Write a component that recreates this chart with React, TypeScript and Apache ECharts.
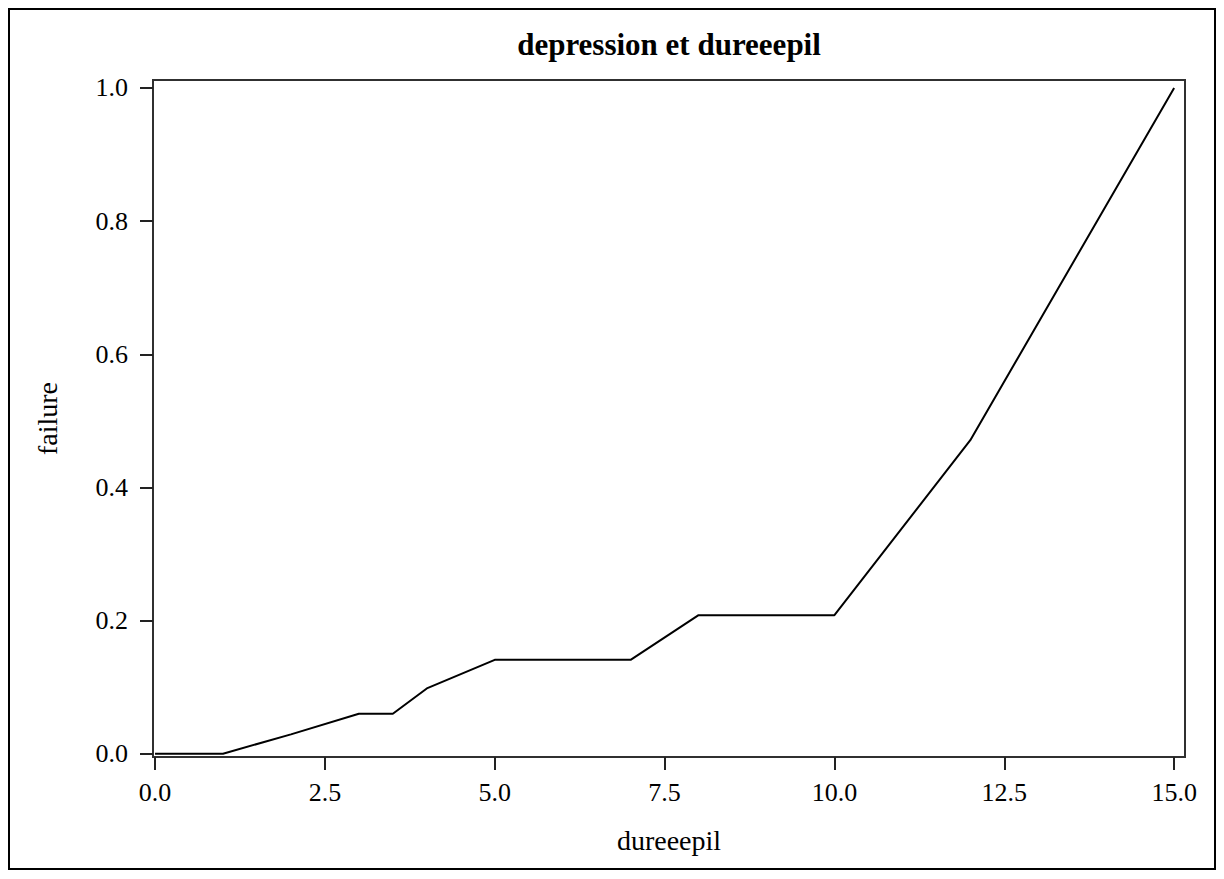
import React, { useEffect, useRef } from "react";
import * as echarts from "echarts";

const chartTitle = "depression et dureeepil";
const xName = "dureeepil";
const yName = "failure";
const durations = [0, 1, 2, 3, 3.5, 4, 5, 7, 8, 10, 12, 15];
const failure = [0, 0, 0.029, 0.06, 0.06, 0.098, 0.141, 0.141, 0.208, 0.208, 0.471, 1.0];
const xTicks = [0, 2.5, 5, 7.5, 10, 12.5, 15];
const yTicks = [0, 0.2, 0.4, 0.6, 0.8, 1.0];

const FONT = "'Liberation Serif', 'Times New Roman', serif";

export default function App() {
  const ref = useRef<HTMLDivElement>(null);
  useEffect(() => {
    if (!ref.current) return;
    const chart = echarts.init(ref.current, undefined, { renderer: "svg" });
    const data = durations.map((d, i) => [d, failure[i]]);
    chart.setOption({
      animation: false,
      backgroundColor: "#fff",
      graphic: [
        {
          type: "text",
          x: 659,
          y: 34,
          style: {
            text: chartTitle,
            fontFamily: FONT,
            fontWeight: "bold",
            fontSize: 31,
            fill: "#000",
            textAlign: "center",
            textVerticalAlign: "middle",
          },
        },
      ],
      grid: {
        left: 143,
        right: 29,
        top: 70,
        bottom: 111,
        show: true,
        borderColor: "#303030",
        borderWidth: 2,
        backgroundColor: "transparent",
      },
      xAxis: {
        type: "value",
        min: -0.03,
        max: 15.16,
        name: xName,
        nameLocation: "middle",
        nameGap: 69,
        nameTextStyle: { fontFamily: FONT, fontSize: 28, color: "#000" },
        axisLine: { show: false, onZero: false },
        axisTick: {
          show: true,
          length: 13,
          lineStyle: { color: "#222", width: 2 },
          customValues: xTicks,
        },
        axisLabel: {
          customValues: xTicks,
          formatter: (v: number) => v.toFixed(1),
          fontFamily: FONT,
          fontSize: 26,
          color: "#000",
          margin: 22,
        },
        splitLine: { show: false },
      },
      yAxis: {
        type: "value",
        min: -0.005,
        max: 1.012,
        name: yName,
        nameLocation: "middle",
        nameGap: 92,
        nameRotate: 90,
        nameTextStyle: { fontFamily: FONT, fontSize: 28, color: "#000" },
        axisLine: { show: false, onZero: false },
        axisTick: {
          show: true,
          length: 13,
          lineStyle: { color: "#222", width: 2 },
          customValues: yTicks,
        },
        axisLabel: {
          customValues: yTicks,
          formatter: (v: number) => v.toFixed(1),
          fontFamily: FONT,
          fontSize: 26,
          color: "#000",
          margin: 25,
        },
        splitLine: { show: false },
      },
      series: [
        {
          type: "line",
          data,
          showSymbol: false,
          symbol: "none",
          lineStyle: { color: "#000", width: 2 },
          itemStyle: { color: "#000" },
        },
      ],
    });
    return () => chart.dispose();
  }, []);
  return (
    <div
      style={{
        width: 1208,
        height: 862,
        border: "2px solid #000",
        boxSizing: "border-box",
        background: "#fff",
      }}
    >
      <div ref={ref} style={{ width: 1204, height: 858 }} />
    </div>
  );
}
